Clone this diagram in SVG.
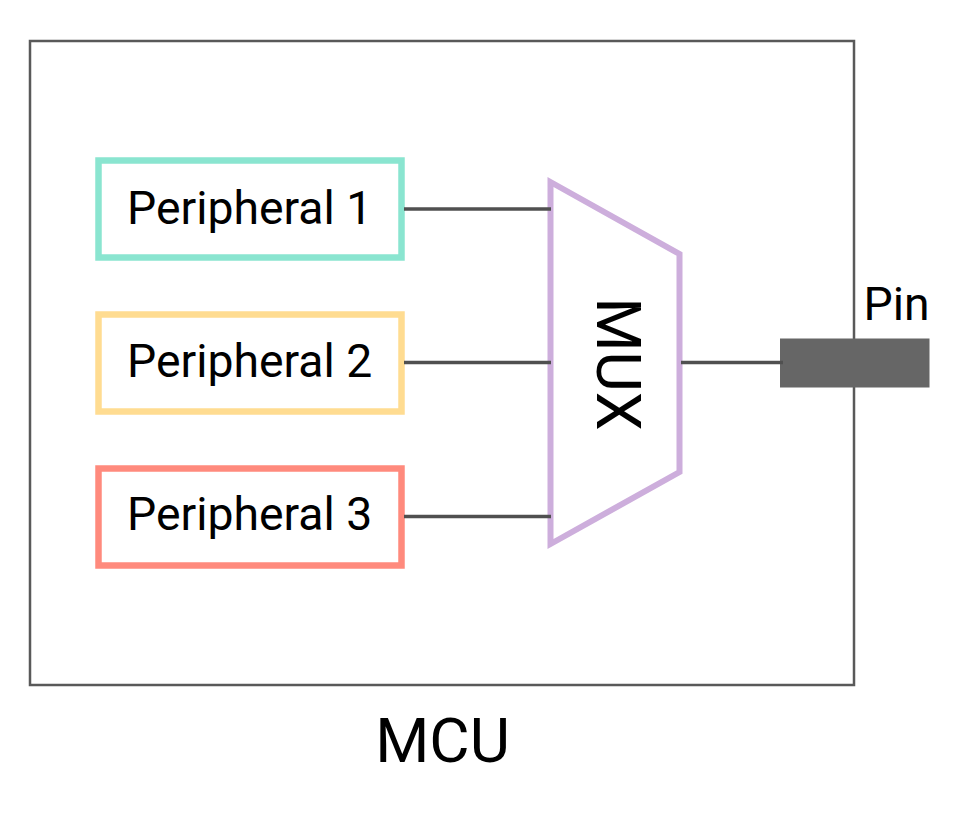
<svg xmlns="http://www.w3.org/2000/svg" width="960" height="820" viewBox="0 0 960 820">
<style>
text{font-family:Roboto,"Liberation Sans",sans-serif;fill:#000}
.p{font-size:46.300px}
.b{fill:#fff;stroke-width:6.500}
.c{stroke:#505050;stroke-width:3.500;fill:none}
</style>
<rect width="960" height="820" fill="#fff"/>
<g id="mcu"><rect x="30" y="41" width="824" height="644" fill="#fff" stroke="#595959" stroke-width="2.500"/><text x="442.500" y="762" font-size="62" text-anchor="middle">MCU</text></g>
<g id="peripheral1"><rect class="b" x="98.500" y="160.500" width="303" height="97" stroke="#8ae5d0"/><text class="p" x="127" y="224">Peripheral 1</text></g>
<g id="peripheral2"><rect class="b" x="98.500" y="314.500" width="303" height="97" stroke="#ffdc91"/><text class="p" x="127" y="377">Peripheral 2</text></g>
<g id="peripheral3"><rect class="b" x="98.500" y="468.500" width="303" height="97" stroke="#ff8a7d"/><text class="p" x="127" y="530">Peripheral 3</text></g>
<g id="mux"><path d="M550.500 182L679.500 254V472L550.500 544Z" fill="#fff" stroke="#cdaedc" stroke-width="6"/><text x="0" y="0" font-size="62" text-anchor="middle" transform="translate(597 364) rotate(90)">MUX</text></g>
<g id="pin"><rect x="780" y="338.500" width="149.500" height="49" fill="#666"/><text x="896.500" y="320" font-size="46.300" text-anchor="middle">Pin</text></g>
<g id="connectors">
<path class="c" d="M404 209H551M404 362.500H551M404 516.500H551M681 362.500H783"/>
</g>
</svg>
